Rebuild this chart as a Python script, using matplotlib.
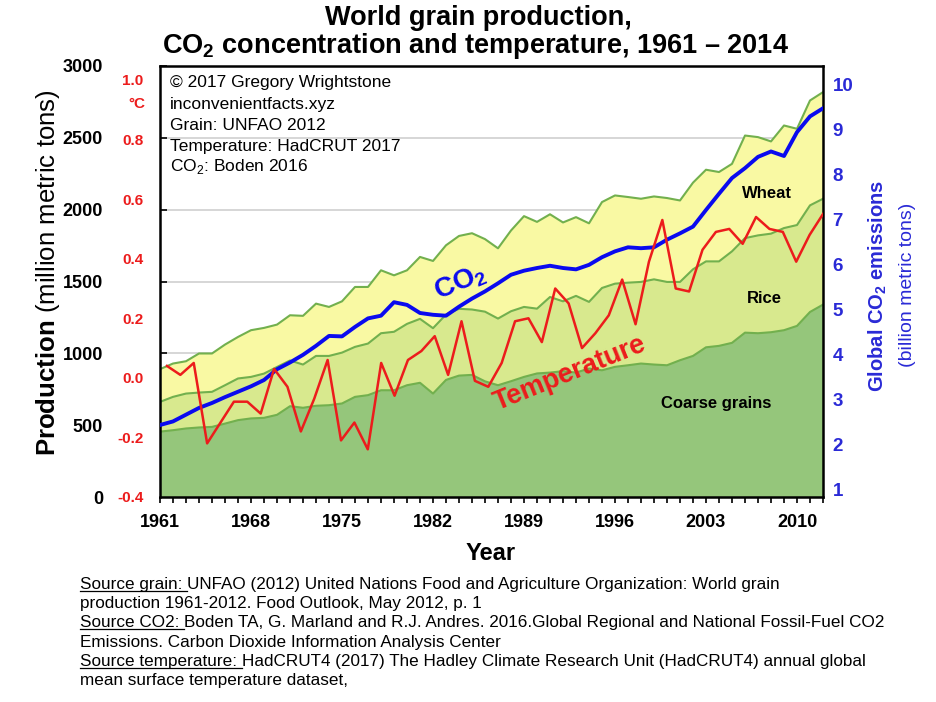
import numpy as np
import matplotlib
matplotlib.use("Agg")
import matplotlib.pyplot as plt
from matplotlib import font_manager
from matplotlib.ticker import MultipleLocator, FixedLocator
from matplotlib.lines import Line2D

plt.rcParams['font.family'] = ['Liberation Sans', 'DejaVu Sans']
plt.rcParams['mathtext.fontset'] = 'custom'
plt.rcParams['mathtext.rm'] = 'Liberation Sans'
plt.rcParams['mathtext.bf'] = 'Liberation Sans:bold'

# ---- data ----
years = np.arange(1961, 2013)
coarse = [455, 465, 477, 484, 488, 511, 535, 547, 551, 572,
          632, 621, 635, 639, 651, 697, 709, 743, 743, 778,
          795, 720, 815, 845, 850, 805, 778, 806, 836, 860,
          866, 876, 866, 894, 882, 906, 917, 929, 922, 917,
          952, 982, 1042, 1052, 1073, 1144, 1140, 1147, 1161, 1191,
          1288, 1339]
rice = [207, 232, 243, 243, 244, 267, 290, 289, 308, 333,
        318, 301, 347, 343, 354, 348, 359, 397, 407, 427,
        445, 455, 455, 465, 455, 485, 464, 487, 487, 451,
        526, 486, 534, 464, 573, 579, 575, 568, 593, 580,
        545, 603, 598, 588, 637, 658, 681, 686, 711, 702,
        742, 737]
wheat = [228, 232, 225, 272, 267, 283, 289, 325, 318, 295,
         315, 339, 364, 341, 357, 417, 394, 438, 393, 373,
         431, 468, 482, 507, 531, 505, 489, 562, 632, 604,
         576, 549, 548, 547, 598, 614, 596, 579, 577, 584,
         567, 603, 638, 622, 609, 714, 684, 642, 714, 670,
         730, 742]
co2 = [2.44, 2.52, 2.67, 2.82, 2.93, 3.06, 3.18, 3.30, 3.44, 3.68,
       3.83, 4.00, 4.20, 4.42, 4.41, 4.62, 4.81, 4.87, 5.17, 5.11,
       4.93, 4.89, 4.87, 5.07, 5.25, 5.41, 5.59, 5.78, 5.87, 5.93,
       5.98, 5.93, 5.90, 6.00, 6.17, 6.30, 6.39, 6.37, 6.39, 6.56,
       6.70, 6.85, 7.22, 7.58, 7.93, 8.15, 8.40, 8.52, 8.42, 8.95,
       9.30, 9.48]
temp_years = np.arange(1961, 2011)
temp = [0.04, 0.01, 0.05, -0.22, -0.15, -0.08, -0.08, -0.12, 0.03, -0.03,
        -0.18, -0.07, 0.06, -0.21, -0.15, -0.24, 0.05, -0.06, 0.06, 0.09,
        0.14, 0.01, 0.19, -0.01, -0.03, 0.05, 0.19, 0.20, 0.12, 0.30,
        0.25, 0.10, 0.15, 0.21, 0.33, 0.18, 0.39, 0.53, 0.30, 0.29,
        0.43, 0.49, 0.50, 0.45, 0.54, 0.50, 0.49, 0.39, 0.48, 0.55]

prod_ticks = [0, 500, 1000, 1500, 2000, 2500, 3000]
temp_ticks = [-0.4, -0.2, 0.0, 0.2, 0.4, 0.6, 0.8, 1.0]
co2_ticks = [1, 2, 3, 4, 5, 6, 7, 8, 9, 10]
year_ticks = [1961, 1968, 1975, 1982, 1989, 1996, 2003, 2010]

W, H = 936, 702
def px(x, y):
    return x / W, 1 - y / H

c_coarse = '#95c67b'
c_rice = '#d8e98e'
c_wheat = '#f9f9a3'
c_edge = '#72b04e'
c_blue = '#0a0aef'
c_blue_txt = '#2a2ad6'
c_red = '#ec1c1c'

fig = plt.figure(figsize=(W / 100, H / 100), dpi=100)
pos = [160 / W, 1 - 497 / H, (823 - 160) / W, (497 - 66) / H]
ax1 = fig.add_axes(pos)

# stacked grain areas
ax1.stackplot(years, coarse, rice, wheat, colors=[c_coarse, c_rice, c_wheat], linewidth=0)
tops = np.cumsum([coarse, rice, wheat], axis=0)
for t in tops:
    ax1.plot(years, t, color=c_edge, lw=1.5)

ax1.set_xlim(1961, 2012)
ax1.set_ylim(0, 3000)
ax1.yaxis.set_major_locator(FixedLocator(prod_ticks))
ax1.grid(axis='y', color='#cfcfcf', lw=1.2)
ax1.set_axisbelow(True)
ax1.xaxis.set_major_locator(FixedLocator(year_ticks))
ax1.xaxis.set_minor_locator(MultipleLocator(1))
ax1.tick_params(axis='x', which='both', direction='out', length=4, width=1.2, pad=8)
ax1.tick_params(axis='y', direction='in', length=5, width=1.2, pad=41)
for lab in ax1.get_xticklabels() + ax1.get_yticklabels():
    lab.set_fontweight('bold')
    lab.set_fontsize(13)
for sp in ax1.spines.values():
    sp.set_linewidth(1.8)

# CO2 on right axis
ax_c = ax1.twinx()
ax_c.plot(years, co2, color=c_blue, lw=2.8, solid_joinstyle='round')
ax_c.set_ylim(0.84, 10.42)
ax_c.yaxis.set_major_locator(FixedLocator(co2_ticks))
ax_c.tick_params(axis='y', length=0, pad=7, labelcolor=c_blue_txt)
for lab in ax_c.get_yticklabels():
    lab.set_fontweight('bold')
    lab.set_fontsize(13.5)
for sp in ax_c.spines.values():
    sp.set_visible(False)

# temperature overlay with its own x scale
ax_t = fig.add_axes(pos, frameon=False)
ax_t.plot(temp_years, temp, color=c_red, lw=1.8)
ax_t.set_xlim(1960.48, 2010)
ax_t.set_ylim(-0.4, 1.047)
ax_t.xaxis.set_visible(False)
ax_t.yaxis.set_major_locator(FixedLocator(temp_ticks))
ax_t.set_yticklabels(['%.1f' % v for v in temp_ticks])
ax_t.tick_params(axis='y', length=0, pad=12, labelcolor=c_red)
for lab in ax_t.get_yticklabels():
    lab.set_fontweight('bold')
    lab.set_fontsize(11)
fig.text(*px(137, 104), '\u00b0C', color=c_red, fontsize=11, fontweight='bold',
         ha='center', va='center')

# in-plot labels
ax1.text(2007.7, 2110, 'Wheat', fontsize=12, fontweight='bold', ha='center', va='center')
ax1.text(2007.5, 1381, 'Rice', fontsize=12, fontweight='bold', ha='center', va='center')
ax1.text(2003.8, 650, 'Coarse grains', fontsize=12, fontweight='bold', ha='center', va='center')
ax1.text(1984.1, 1490, r'CO$_\mathbf{2}$', fontsize=20, fontweight='bold', color=c_blue,
         ha='center', va='center', rotation=23)
ax1.text(1992.5, 860, 'Temperature', fontsize=19.5, fontweight='bold', color=c_red,
         ha='center', va='center', rotation=22)

box_lines = ['\u00a9 2017 Gregory Wrightstone', 'inconvenientfacts.xyz', 'Grain: UNFAO 2012',
             'Temperature: HadCRUT 2017', r'CO$_2$: Boden 2016']
for i, s in enumerate(box_lines):
    fig.text(*px(170, 83 + 21 * i), s, fontsize=12.5, ha='left', va='center')

# title and axis labels
fig.text(*px(478, 18), 'World grain production,', fontsize=19.5, fontweight='bold',
         ha='center', va='center')
fig.text(*px(475, 46), r'CO$_\mathbf{2}$ concentration and temperature, 1961 ' + '\u2013 2014',
         fontsize=19.5, fontweight='bold', ha='center', va='center')
fig.text(*px(491, 553), 'Year', fontsize=17, fontweight='bold', ha='center', va='center')
fig.text(*px(48, 273), r'$\mathbf{Production}$ (million metric tons)', fontsize=18.5,
         rotation=90, ha='center', va='center')
fig.text(*px(878, 286), r'Global CO$_\mathbf{2}$ emissions', fontsize=14.5, fontweight='bold',
         color=c_blue_txt, rotation=90, ha='center', va='center')
fig.text(*px(907, 285), '(billion metric tons)', fontsize=14, color=c_blue_txt,
         rotation=90, ha='center', va='center')

# source notes with underlined prefixes
names = {f.name for f in font_manager.fontManager.ttflist}
narrow = 'Liberation Sans Narrow' in names
src_family = ['Liberation Sans Narrow', 'Liberation Sans'] if narrow else ['Liberation Sans']
src_size = 14.5 if narrow else 12.3
sources = [
    ('Source grain:', 'UNFAO (2012) United Nations Food and Agriculture Organization: World grain'),
    ('', 'production 1961-2012. Food Outlook, May 2012, p. 1'),
    ('Source CO2:', 'Boden TA, G. Marland and R.J. Andres. 2016.Global Regional and National Fossil-Fuel CO2'),
    ('', 'Emissions. Carbon Dioxide Information Analysis Center'),
    ('Source temperature:', 'HadCRUT4 (2017) The Hadley Climate Research Unit (HadCRUT4) annual global'),
    ('', 'mean surface temperature dataset,'),
]
renderer = fig.canvas.get_renderer()
sp_a = fig.text(0, 0, 'x x', family=src_family, fontsize=src_size)
sp_b = fig.text(0, 0, 'xx', family=src_family, fontsize=src_size)
space_w = sp_a.get_window_extent(renderer).width - sp_b.get_window_extent(renderer).width
sp_a.remove()
sp_b.remove()
x0 = 80
for i, (pre, rest) in enumerate(sources):
    y_base = 589 + 19.2 * i
    xr = x0
    if pre:
        t = fig.text(*px(x0, y_base), pre, family=src_family, fontsize=src_size,
                     ha='left', va='baseline')
        bb = t.get_window_extent(renderer)
        xr = x0 + bb.width + space_w
        yl = 1 - (y_base + 2) / H
        fig.add_artist(Line2D([x0 / W, xr / W], [yl, yl], color='black', lw=0.9))
    fig.text(*px(xr, y_base), rest, family=src_family, fontsize=src_size,
             ha='left', va='baseline')

fig.savefig('out.png', dpi=100)
